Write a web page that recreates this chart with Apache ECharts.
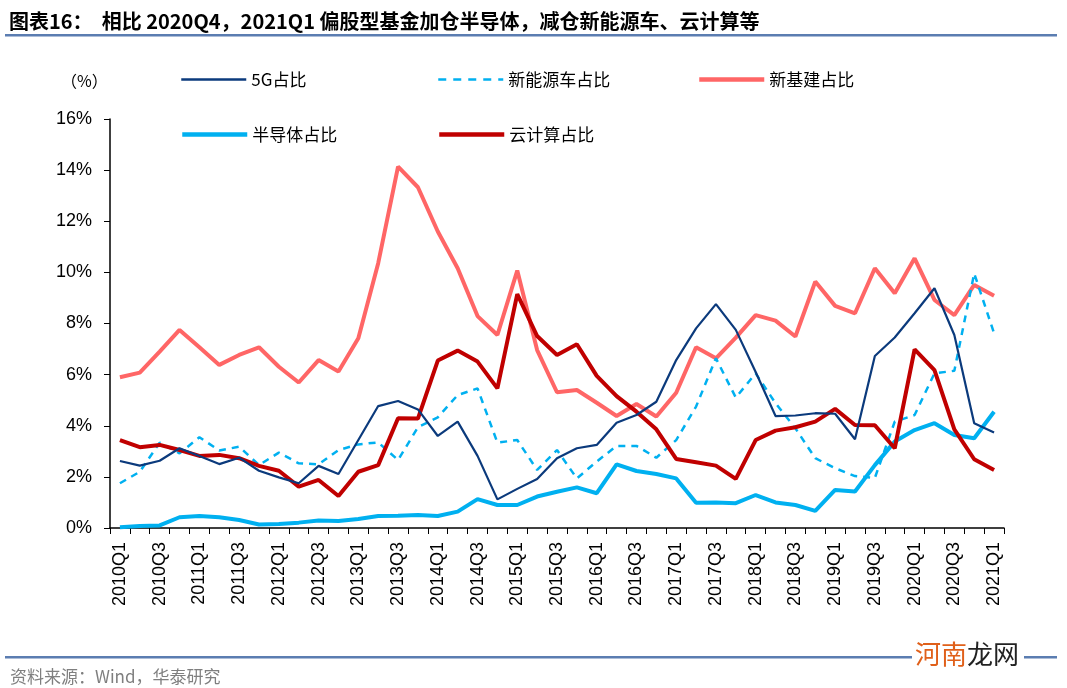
<!DOCTYPE html>
<html><head><meta charset="utf-8">
<script src="https://cdn.jsdelivr.net/npm/echarts@6/dist/echarts.min.js"></script>
<style>html,body{margin:0;padding:0;background:#fff;}#c{width:1067px;height:688px;}</style>
</head><body><div id="c"></div>
<script>
const categories = ['2010Q1','2010Q2','2010Q3','2010Q4','2011Q1','2011Q2','2011Q3','2011Q4','2012Q1','2012Q2','2012Q3','2012Q4','2013Q1','2013Q2','2013Q3','2013Q4','2014Q1','2014Q2','2014Q3','2014Q4','2015Q1','2015Q2','2015Q3','2015Q4','2016Q1','2016Q2','2016Q3','2016Q4','2017Q1','2017Q2','2017Q3','2017Q4','2018Q1','2018Q2','2018Q3','2018Q4','2019Q1','2019Q2','2019Q3','2019Q4','2020Q1','2020Q2','2020Q3','2020Q4','2021Q1'];
const fiveG = [2.62,2.44,2.63,3.12,2.82,2.5,2.75,2.24,1.98,1.75,2.43,2.11,3.44,4.77,4.97,4.64,3.6,4.16,2.82,1.12,1.53,1.92,2.73,3.12,3.25,4.12,4.42,4.94,6.57,7.81,8.76,7.75,6.1,4.38,4.4,4.49,4.47,3.47,6.73,7.45,8.4,9.38,7.55,4.1,3.74];
const newEnergy = [1.75,2.2,3.34,2.92,3.55,3.03,3.18,2.46,2.95,2.53,2.49,3.05,3.27,3.35,2.66,3.94,4.33,5.2,5.46,3.34,3.44,2.27,3.05,1.94,2.6,3.21,3.21,2.75,3.44,4.75,6.64,5.1,6.05,4.88,3.9,2.73,2.34,2.03,1.96,4.16,4.42,6.05,6.15,9.96,7.62];
const newInfra = [5.9,6.08,6.9,7.75,7.07,6.38,6.77,7.07,6.31,5.69,6.57,6.12,7.42,10.36,14.14,13.33,11.6,10.16,8.29,7.55,10.07,6.96,5.31,5.4,4.9,4.38,4.85,4.36,5.29,7.07,6.64,7.45,8.33,8.11,7.49,9.64,8.69,8.4,10.16,9.18,10.55,8.92,8.33,9.51,9.09];
const semi = [0.03,0.08,0.1,0.42,0.47,0.42,0.31,0.14,0.16,0.21,0.29,0.27,0.35,0.47,0.48,0.51,0.47,0.64,1.13,0.9,0.9,1.23,1.42,1.59,1.36,2.49,2.23,2.11,1.94,0.99,1.0,0.97,1.29,1.0,0.9,0.67,1.49,1.43,2.46,3.38,3.83,4.1,3.64,3.51,4.55];
const cloud = [3.44,3.16,3.25,3.05,2.82,2.86,2.73,2.43,2.24,1.62,1.88,1.25,2.2,2.46,4.29,4.28,6.55,6.94,6.51,5.46,9.15,7.51,6.77,7.19,5.95,5.16,4.55,3.86,2.7,2.57,2.44,1.92,3.44,3.81,3.94,4.16,4.66,4.03,4.02,3.12,6.99,6.18,3.86,2.69,2.27];
const seriesNames = ['5G占比','新能源车占比','新基建占比','半导体占比','云计算占比'];

const chart = echarts.init(document.getElementById('c'), null, {renderer:'canvas'});
const cjk = '"Noto Sans CJK SC", sans-serif';
const legendText = {fontFamily: cjk, fontSize: 17, color: '#000'};
function mk(name, data, color, width, type, z) {
  return {name, type:'line', data, showSymbol:false, symbol:'none', z,
    lineStyle:{color, width, type: type||'solid'}, itemStyle:{color}};
}
function lg(name, left, top, w, type) {
  return {data:[name], left, top, padding:0, itemWidth:65, itemHeight:14, itemGap:8,
    textStyle:legendText, itemStyle:{opacity:0}, lineStyle:{width:w, type:type||'inherit'}};
}
chart.setOption({
  animation:false,
  backgroundColor:'#fff',
  title:[{text:'图表16：  相比 2020Q4，2021Q1 偏股型基金加仓半导体，减仓新能源车、云计算等', left:4, top:6,
    textStyle:{fontFamily:cjk, fontSize:20, fontWeight:'bold', color:'#000'}},
    {text:'资料来源：Wind，华泰研究', left:5, top:663, textStyle:{fontFamily:cjk, fontSize:17, fontWeight:'normal', color:'#7f7f7f'}},
    {text:'（%）', left:56, top:68, textStyle:{fontFamily:cjk, fontSize:16, fontWeight:'normal', color:'#000'}}
  ],
  graphic:[
    {type:'rect', shape:{x:5,y:34,width:1052,height:2.5}, style:{fill:'#5B7DB1'}},
    {type:'rect', shape:{x:5,y:656,width:1052,height:2.5}, style:{fill:'#5B7DB1'}},
    {type:'rect', shape:{x:912,y:640,width:112,height:30}, style:{fill:'#fff'}},
    {type:'text', left:915, top:641, style:{text:'河南', fill:'#E0601A', font:'26px "Noto Sans CJK SC"'}},
    {type:'text', left:967, top:641, style:{text:'龙网', fill:'#222', font:'26px "Noto Sans CJK SC"'}}
  ],
  legend:[
    lg(seriesNames[0], 180, 71, 2.5), lg(seriesNames[1], 437, 71, 2.5, [8,7]), lg(seriesNames[2], 697, 71, 4.5),
    lg(seriesNames[3], 180, 126, 4.5), lg(seriesNames[4], 437, 126, 4.5)
  ],
  grid:{left:110, right:63, top:119, bottom:160},
  xAxis:{type:'category', data:categories, boundaryGap:true,
    axisLine:{lineStyle:{color:'#000', width:1.5}},
    axisTick:{show:true, interval:0, length:6, lineStyle:{color:'#000'}},
    axisLabel:{interval:1, rotate:90, fontFamily:'"Liberation Sans", Arial', fontSize:18, color:'#000', margin:14}
  },
  yAxis:{type:'value', min:0, max:16, interval:2,
    splitLine:{show:false},
    axisLine:{show:true, lineStyle:{color:'#000', width:1.5}},
    axisTick:{show:true, length:6, lineStyle:{color:'#000'}},
    axisLabel:{formatter:'{value}%', fontFamily:'"Liberation Sans", Arial', fontSize:18, color:'#000', margin:18}
  },
  series:[
    mk(seriesNames[0], fiveG, '#0B3A7C', 2.2, 'solid', 5),
    mk(seriesNames[1], newEnergy, '#00B0F0', 2.5, [7,6], 4),
    mk(seriesNames[2], newInfra, '#FF6666', 4, 'solid', 2),
    mk(seriesNames[3], semi, '#00B0F0', 4, 'solid', 3),
    mk(seriesNames[4], cloud, '#C00000', 4, 'solid', 4)
  ]
});
</script></body></html>
